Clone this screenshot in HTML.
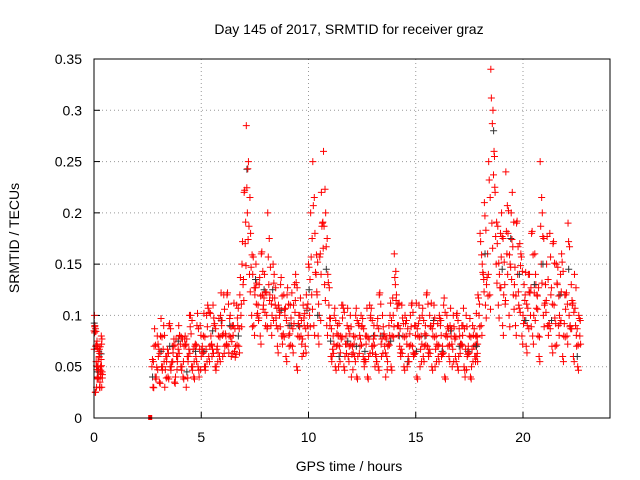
<!DOCTYPE html>
<html><head><meta charset="utf-8"><style>
body{margin:0;background:#fff}
svg{display:block;font-family:"Liberation Sans",sans-serif}
</style></head><body>
<svg id="c" width="640" height="480">
<text x="349" y="34" font-size="14" text-anchor="middle">Day 145 of 2017, SRMTID for receiver graz</text>
<text x="349" y="471" font-size="14" text-anchor="middle">GPS time / hours</text>
<text transform="translate(19,238) rotate(-90)" font-size="14" text-anchor="middle">SRMTID / TECUs</text>
<g id="grid"></g><g id="pts"></g>
<rect x="94" y="59" width="516" height="359" fill="none" stroke="#000"/>
</svg>
<script>
const xTicks=[0,5,10,15,20];
const yTicks=[0,0.05,0.1,0.15,0.2,0.25,0.3,0.35];
const yTickLabels=["0","0.05","0.1","0.15","0.2","0.25","0.3","0.35"];
const segStart=[0,2.7,6.7,10.0,11.0,17.8,20.1];
const segA=[.085,.09,.07,.03,.05,.04,.06,.035,.045,.03];
const segA2=[.1,.025,.055,.075,.04,.065,.03,.05,.08,.045];
const segB=[.05,.07,.04,.06,.08,.05,.03,.06,.09,.05,.07,.04,.06,.08,.05,.07,.03,.06,.1,.05,.07,.09,.04,.06,.08,.05,.11,.07,.06,.09,.05,.08,.1,.06,.07,.12,.08,.06,.09,.07];
const segB2=[.03,.04,.08,.035,.05,.09,.06,.04,.05,.07,.035,.06,.09,.05,.04,.08,.06,.1,.05,.04,.06,.05,.09,.07,.05,.1,.06,.08,.11,.05,.07,.06,.09,.12,.08,.07,.1,.09,.065,.11];
const segC=[.09,.12,.15,.22,.285,.25,.18,.14,.12,.1,.13,.16,.11,.09,.2,.12,.1,.14,.09,.11,.13,.08,.1,.12,.07,.09,.11,.14,.08,.1,.06,.09,.12];
const segC2=[.07,.1,.13,.17,.2,.14,.1,.09,.15,.11,.08,.12,.14,.1,.13,.09,.15,.11,.07,.1,.08,.12,.06,.09,.11,.07,.13,.05,.1,.08,.11,.07,.09];
const segD=[.15,.2,.25,.18,.12,.1,.22,.26,.2,.14];
const segD2=[.1,.12,.09,.14,.08,.16,.19,.13,.09,.11];
const segE=[.09,.06,.1,.07,.05,.08,.11,.06,.09,.07,.04,.08,.1,.06,.07,.09,.05,.08,.06,.1,.07,.05,.09,.12,.06,.08,.04,.07,.1,.08,.16,.12,.09,.06,.08,.1,.05,.07,.11,.06,.09,.08,.05,.1,.07,.12,.06,.09,.08,.05,.07,.1,.06,.11,.08,.07,.09,.05,.08,.1,.06,.07,.09,.04,.06,.08,.05,.07,.06];
const segE2=[.06,.08,.05,.09,.07,.11,.05,.08,.06,.1,.07,.06,.04,.09,.1,.06,.08,.04,.11,.07,.09,.06,.05,.08,.1,.07,.06,.09,.05,.1,.13,.09,.07,.11,.05,.08,.06,.1,.07,.09,.04,.11,.08,.06,.09,.07,.1,.05,.11,.08,.06,.09,.07,.04,.1,.06,.08,.1,.06,.05,.08,.09,.05,.1,.07,.04,.09,.06,.08];
const segF=[.08,.12,.18,.15,.21,.13,.25,.34,.3,.22,.17,.14,.2,.12,.24,.18,.15,.22,.13,.19,.11,.16,.1];
const segF2=[.06,.1,.09,.14,.11,.16,.12,.19,.26,.15,.11,.18,.09,.13,.16,.1,.2,.12,.09,.14,.17,.08,.13];
const segG=[.12,.09,.14,.18,.1,.13,.08,.25,.2,.11,.15,.09,.12,.17,.07,.13,.1,.16,.08,.12,.19,.09,.11,.14,.07,.1];
const segG2=[.07,.14,.1,.08,.16,.12,.06,.15,.1,.13,.09,.18,.07,.11,.15,.09,.14,.06,.12,.08,.1,.13,.06,.09,.05,.08];
const segSteps=[0.04,0.1,0.1,0.1,0.1,0.1,0.1];
const ns="http://www.w3.org/2000/svg";
const X=h=>94+h*21.45, Y=v=>418-v*1025.7;
const grid=document.getElementById('grid'),pts=document.getElementById('pts');
function mk(tag,at,parent){const e=document.createElementNS(ns,tag);for(const k in at)e.setAttribute(k,at[k]);parent.appendChild(e);return e;}
yTicks.forEach((v,i)=>{
 if(i>0&&i<yTicks.length-1){const g=mk('line',{x1:94,x2:610,y1:Y(v),y2:Y(v),stroke:'#999','stroke-dasharray':'1,3'},grid);
 
 }
 const t=mk('line',{x1:94,x2:100,y1:Y(v),y2:Y(v),stroke:'#000'},grid);
 
 
 const l=mk('text',{x:82,y:Y(v)+5,'font-size':14,'text-anchor':'end'},grid);l.textContent=yTickLabels[i];
 
 
});
xTicks.forEach(h=>{
 if(h>0){const g=mk('line',{x1:X(h),x2:X(h),y1:59,y2:418,stroke:'#999','stroke-dasharray':'1,3'},grid);
 
 }
 const t=mk('line',{x1:X(h),x2:X(h),y1:412,y2:418,stroke:'#000'},grid);
 
 
 const l=mk('text',{x:X(h),y:442,'font-size':14,'text-anchor':'middle'},grid);l.textContent=h;
 
 
});
const segs=[[segA,segA2],[segB,segB2],[segC,segC2],[segD,segD2],[segE,segE2],[segF,segF2],[segG,segG2]];
function plus(h,v,col){const x=X(h),y=Y(v);
 const p=mk('path',{d:`M${x-3.5},${y}h7M${x},${y-3.5}v7`,stroke:col,'stroke-width':1,fill:'none'},pts);
 
 }
segs.forEach((s,si)=>{
 const st=segSteps[si],a=s[0],b=s[1];
 a.forEach((v,i)=>plus(segStart[si]+i*st,v,'#f00'));
 b.forEach((v,i)=>plus(segStart[si]+i*st+st/2,v,'#f00'));
 b.forEach((v,i)=>{if(i%4===0)plus(segStart[si]+i*st+st*0.3,(v+a[i])/2,'#333');});
 a.forEach((v,i)=>plus(segStart[si]+i*st+st*0.7,(v*0.8+0.015),'#f00'));
 a.forEach((v,i)=>{const w=b[(i+1)%b.length];plus(segStart[si]+i*st+st*0.25,(v+w)/2+0.012,'#f00');});
 b.forEach((v,i)=>plus(segStart[si]+i*st+st*0.85,v*0.85+0.004,'#f00'));
});
const sq=mk('rect',{x:X(2.62)-2,y:Y(0)-3,width:4,height:5,fill:'#f00'},pts);


</script>
</body></html>
